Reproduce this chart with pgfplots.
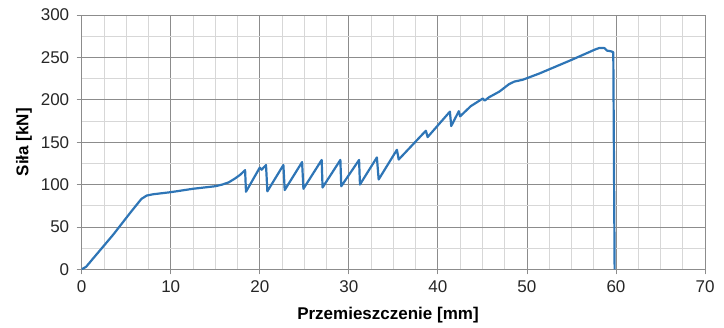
\documentclass[border=0pt]{standalone}
\usepackage{fontspec}
\setmainfont{Liberation Sans}
\usepackage{pgfplots}
\pgfplotsset{compat=1.18}
\definecolor{curve}{RGB}{46,117,182}
\definecolor{majg}{RGB}{140,140,140}
\definecolor{ming}{RGB}{215,215,215}
\begin{document}
\begin{tikzpicture}
\begin{axis}[
  scale only axis,
  width=623.3pt, height=254.3pt,
  xmin=0, xmax=70, ymin=0, ymax=300,
  xtick distance=10, ytick distance=50,
  minor x tick num=3, minor y tick num=1,
  grid=both,
  major grid style={draw=majg, line width=0.8pt},
  minor grid style={draw=ming, line width=0.8pt},
  axis line style={draw=majg, line width=0.8pt},
  tick align=outside,
  major tick length=5pt, minor tick length=0pt,
  xtick pos=bottom, ytick pos=left,
  tick style={draw=majg, line width=0.8pt},
  /pgf/number format/assume math mode=true,
  tick label style={font=\fontsize{17}{20}\selectfont, text=black!85},
  yticklabel style={xshift=-4pt},
  xticklabel style={yshift=-3pt},
  label style={font=\fontsize{17}{20}\selectfont\bfseries},
  xlabel={Przemieszczenie [mm]},
  ylabel={Siła [kN]},
  xlabel style={at={(axis description cs:0.4914,-0.1797)}, anchor=center},
  ylabel style={at={(axis description cs:-0.0926,0.5)}, anchor=center},
]
\addplot[color=curve, line width=2.2pt, line join=round] coordinates {
(0,0) (0.5,3) (1.3,13) (3.55,41) (5.4,66) (6.7,83) (7.3,87) (8.0,88.5)
(10,91) (12.5,95) (15,98) (15.8,100) (16.5,102.5) (17.2,107) (17.8,111.5)
(18.35,117) (18.45,91.5)
(20.0,120) (20.2,117.5) (20.7,123) (20.85,92)
(22.65,123) (22.8,93.5)
(24.75,126.5) (24.9,95)
(26.95,129) (27.05,96.5)
(29.05,129) (29.15,98)
(31.15,129) (31.25,100)
(33.15,132) (33.35,106)
(35.4,141) (35.6,129.5)
(38.65,163.5) (38.85,156)
(41.35,186) (41.5,169)
(42.35,186.5) (42.5,180.5)
(43.7,192.5) (45.05,201.5) (45.25,199)
(45.75,203) (46.9,209.6) (48.0,218.5) (48.6,221.5) (49.5,223.5)
(51.4,231) (55,247) (57.7,259.5) (58.1,261) (58.7,261) (59.0,258)
(59.5,257) (59.7,256) (59.85,0)
};
\coordinate (bl) at (rel axis cs:0,0);
\coordinate (tr) at (rel axis cs:1,1);
\end{axis}
\pgfresetboundingbox
\path ([shift={(-81.7pt,-57.7pt)}]bl) rectangle ([shift={(19pt,15pt)}]tr);
\end{tikzpicture}
\end{document}
